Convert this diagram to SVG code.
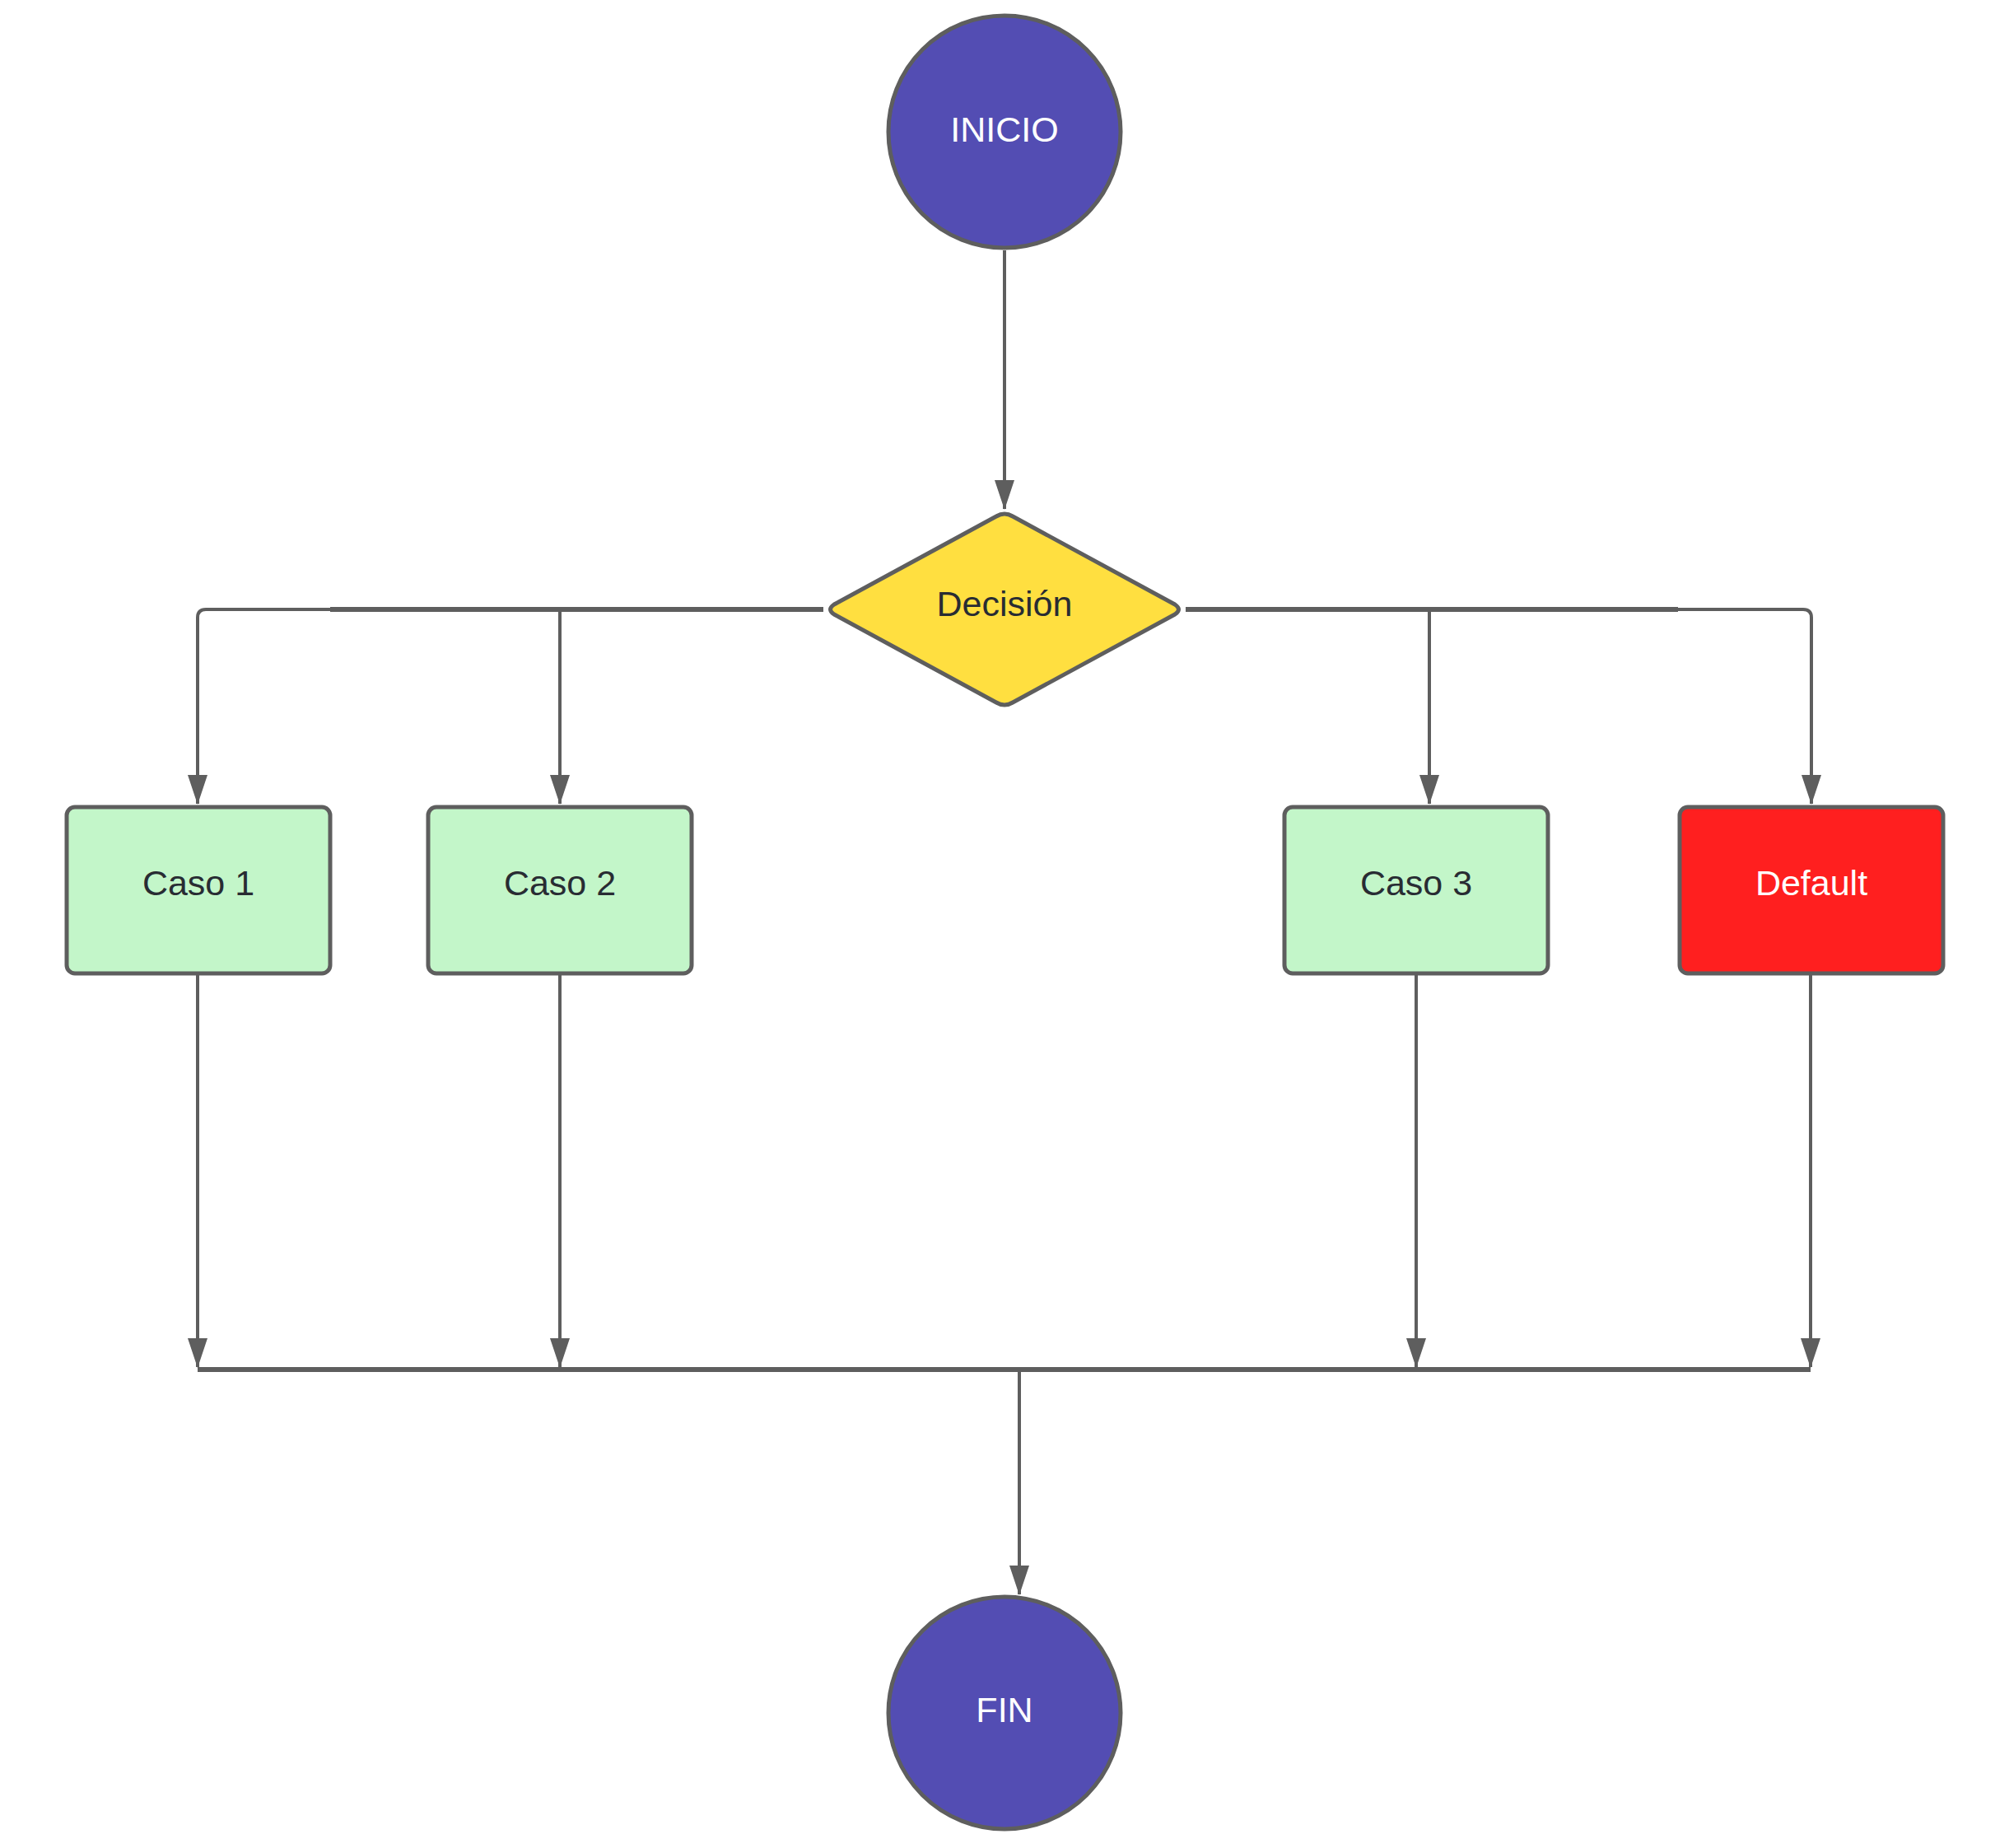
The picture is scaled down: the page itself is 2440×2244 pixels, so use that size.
<svg xmlns="http://www.w3.org/2000/svg" width="2440" height="2244" viewBox="0 0 2440 2244">
  <style>
    .node { stroke: #5e5e5e; stroke-width: 5; }
    .term { fill: #534db3; }
    .dec { fill: #ffdf40; }
    .case { fill: #c3f6c9; }
    .def { fill: #ff1f1f; }
    .lbl { font-family: "Liberation Sans", Arial, sans-serif; font-size: 43px; text-anchor: middle; fill: #282c33; }
    .wht { fill: #ffffff; }
    .conn { fill: none; stroke: #5e5e5e; stroke-width: 4; }
    .thick { fill: none; stroke: #5e5e5e; stroke-width: 6; }
  </style>
  <defs>
    <marker id="arr" viewBox="0 0 36 24" refX="35" refY="12" markerWidth="36" markerHeight="24" markerUnits="userSpaceOnUse" orient="auto">
      <path d="M0,0 L36,12 L0,24 z" fill="#5e5e5e"/>
    </marker>
  </defs>
  <rect x="0" y="0" width="2440" height="2244" fill="#ffffff"/>

  <g id="connectors">
    <path class="conn" d="M1220,304 L1220,618" marker-end="url(#arr)"/>
    <path class="conn" d="M1000,740 L250,740 Q240,740 240,750 L240,976" marker-end="url(#arr)"/>
    <path class="thick" d="M1000,740 L401,740"/>
    <path class="conn" d="M680,740 L680,976" marker-end="url(#arr)"/>
    <path class="conn" d="M1440,740 L2190,740 Q2200,740 2200,750 L2200,976" marker-end="url(#arr)"/>
    <path class="thick" d="M1440,740 L2038,740"/>
    <path class="conn" d="M1736,740 L1736,976" marker-end="url(#arr)"/>
    <path class="conn" d="M240,1184 L240,1660" marker-end="url(#arr)"/>
    <path class="conn" d="M680,1184 L680,1660" marker-end="url(#arr)"/>
    <path class="conn" d="M1720,1184 L1720,1660" marker-end="url(#arr)"/>
    <path class="conn" d="M2199,1184 L2199,1660" marker-end="url(#arr)"/>
    <path class="thick" d="M240,1663 L2199,1663"/>
    <path class="conn" d="M1238,1663 L1238,1936" marker-end="url(#arr)"/>
  </g>

  <g id="inicio">
    <circle class="node term" cx="1220" cy="160" r="141"/>
    <text class="lbl wht" x="1220" y="172">INICIO</text>
  </g>

  <g id="decision">
    <path class="node dec" stroke-linejoin="round" d="M1210,627 Q1220,621 1230,627 L1427,734 Q1436,740 1427,746 L1230,853 Q1220,859 1210,853 L1013,746 Q1004,740 1013,734 Z"/>
    <text class="lbl" x="1220" y="748">Decisión</text>
  </g>

  <g id="caso1">
    <rect class="node case" x="81" y="980" width="320" height="202" rx="10"/>
    <text class="lbl" x="241" y="1087">Caso 1</text>
  </g>

  <g id="caso2">
    <rect class="node case" x="520" y="980" width="320" height="202" rx="10"/>
    <text class="lbl" x="680" y="1087">Caso 2</text>
  </g>

  <g id="caso3">
    <rect class="node case" x="1560" y="980" width="320" height="202" rx="10"/>
    <text class="lbl" x="1720" y="1087">Caso 3</text>
  </g>

  <g id="default">
    <rect class="node def" x="2040" y="980" width="320" height="202" rx="10"/>
    <text class="lbl wht" x="2200" y="1087">Default</text>
  </g>

  <g id="fin">
    <circle class="node term" cx="1220" cy="2080" r="141"/>
    <text class="lbl wht" x="1220" y="2091">FIN</text>
  </g>
</svg>
